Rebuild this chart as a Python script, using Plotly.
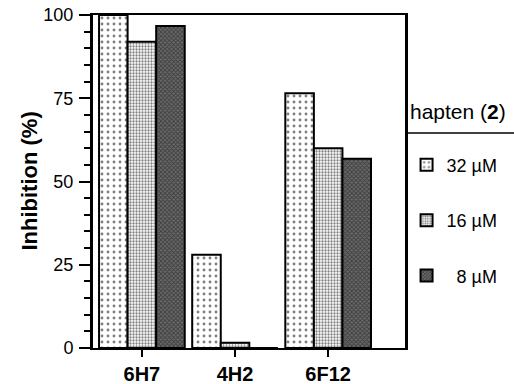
import plotly.graph_objects as go

categories = ["6H7", "4H2", "6F12"]
series_names = ["32 \u00b5M", "16 \u00b5M", "\u20078 \u00b5M"]
v32 = [100, 28, 76.5]
v16 = [92, 1.6, 60]
v8 = [96.7, 0, 56.8]
y_ticks = [0, 25, 50, 75, 100]

patterns = [
    dict(shape=".", fgcolor="black", bgcolor="white", size=6, solidity=0.18),
    dict(shape=".", fgcolor="black", bgcolor="white", size=3, solidity=0.45),
    dict(shape="x", fgcolor="#111", bgcolor="#6a6a6a", size=3, solidity=0.5),
]

fig = go.Figure()
for i, (name, vals) in enumerate(zip(series_names, [v32, v16, v8])):
    fig.add_trace(go.Bar(
        x=categories, y=vals, name=name, legendgroup=name,
        marker=dict(color="white", line=dict(color="black", width=2), pattern=patterns[i]),
    ))

font = "Liberation Sans, Arial, Helvetica, sans-serif"
fig.update_layout(
    width=514, height=384,
    margin=dict(l=93, r=109, t=15, b=36, autoexpand=False),
    plot_bgcolor="white", paper_bgcolor="white",
    barmode="group", bargap=0.08, bargroupgap=0,
    font=dict(family=font, color="black", size=18),
    legend=dict(
        x=1.005, y=0.605, xanchor="left", yanchor="top",
        font=dict(size=18), tracegroupgap=29, bgcolor="rgba(0,0,0,0)",
    ),
    showlegend=True,
)
fig.update_xaxes(
    range=[-0.525, 2.825], showline=True, linecolor="black", linewidth=2, mirror=True,
    ticks="outside", ticklen=7, tickwidth=2, tickcolor="black",
    tickfont=dict(size=20, family=font), showgrid=False, automargin=False,
    tickprefix="<b>", ticksuffix="</b>", ticklabelstandoff=0,
)
fig.update_yaxes(
    range=[0, 100], tickvals=y_ticks, showline=True, linecolor="black", linewidth=3, mirror=True,
    ticks="outside", ticklen=11, tickwidth=2, tickcolor="black",
    minor=dict(dtick=5, ticks="outside", ticklen=6, tickwidth=2, tickcolor="black", showgrid=False),
    tickfont=dict(size=18), automargin=False, ticklabelstandoff=2,
    showgrid=False, zeroline=False,
)
fig.add_annotation(text="<b>Inhibition (%)</b>", textangle=-90, xref="paper", yref="paper",
                   x=-0.205, y=0.5, xanchor="center", yanchor="middle", showarrow=False,
                   font=dict(size=22))
fig.add_annotation(text="hapten (<b>2</b>)", xref="paper", yref="paper",
                   x=1.01, y=0.71, xanchor="left", yanchor="middle", showarrow=False,
                   font=dict(size=21))
fig.add_shape(type="line", xref="paper", yref="paper", x0=1.0, x1=1.35, y0=0.646, y1=0.646,
              line=dict(color="black", width=1.5))
fig.write_html("out.html", config={"displayModeBar": False},
               post_script="document.body.style.margin='0';")
